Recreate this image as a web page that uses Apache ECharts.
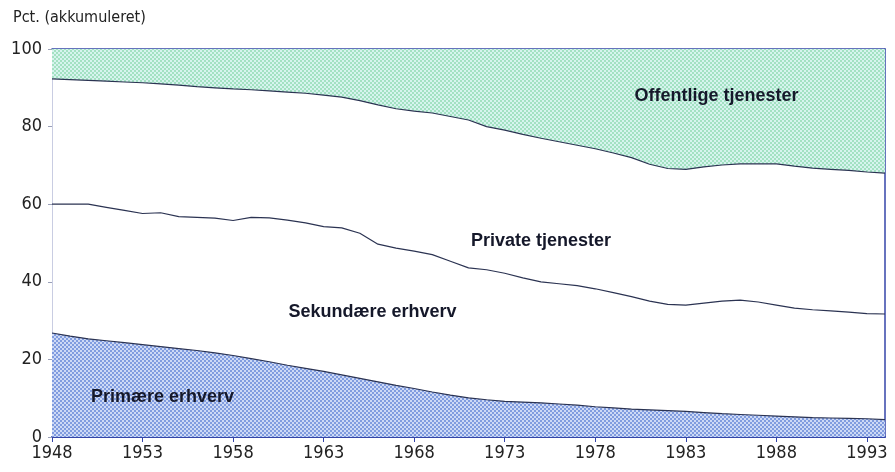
<!DOCTYPE html>
<html lang="da" style="height: 100%">
<head>
    <meta charset="UTF-8">
    <title>Beskæftigelse fordelt på erhverv</title>
    <script type="text/javascript" src="https://cdn.jsdelivr.net/npm/echarts@6/dist/echarts.min.js"></script>
</head>
<body style="height: 100%; margin: 0; background: #fff">
<div id="container" style="width: 895px; height: 472px"></div>
<script type="text/javascript">
    // år 1948-1994
    var years = [1948, 1949, 1950, 1951, 1952, 1953, 1954, 1955, 1956, 1957,
        1958, 1959, 1960, 1961, 1962, 1963, 1964, 1965, 1966, 1967,
        1968, 1969, 1970, 1971, 1972, 1973, 1974, 1975, 1976, 1977,
        1978, 1979, 1980, 1981, 1982, 1983, 1984, 1985, 1986, 1987,
        1988, 1989, 1990, 1991, 1992, 1993, 1994];

    // akkumulerede andele (pct.)
    var primaere = [26.8, 26.0, 25.3, 24.8, 24.3, 23.8, 23.3, 22.8, 22.3, 21.7,
        21.0, 20.2, 19.4, 18.5, 17.7, 16.9, 16.0, 15.1, 14.2, 13.3,
        12.5, 11.6, 10.8, 10.1, 9.6, 9.2, 9.0, 8.8, 8.5, 8.2,
        7.8, 7.5, 7.2, 7.0, 6.8, 6.6, 6.3, 6.0, 5.8, 5.6,
        5.4, 5.2, 5.0, 4.9, 4.8, 4.7, 4.5];
    var sekundaere = [60.0, 60.0, 60.0, 59.2, 58.4, 57.6, 57.8, 56.8, 56.6, 56.4,
        55.8, 56.6, 56.5, 55.9, 55.2, 54.2, 53.9, 52.5, 49.7, 48.7,
        47.9, 47.0, 45.3, 43.6, 43.1, 42.2, 41.0, 40.0, 39.5, 39.0,
        38.2, 37.2, 36.2, 35.0, 34.2, 34.0, 34.5, 35.0, 35.3, 34.8,
        34.0, 33.2, 32.8, 32.5, 32.2, 31.8, 31.7];
    var private = [92.3, 92.1, 91.9, 91.7, 91.5, 91.3, 91.0, 90.7, 90.3, 90.0,
        89.7, 89.5, 89.2, 88.9, 88.6, 88.1, 87.6, 86.7, 85.6, 84.6,
        84.0, 83.5, 82.6, 81.7, 80.0, 79.1, 78.0, 77.0, 76.1, 75.2,
        74.3, 73.2, 72.0, 70.3, 69.2, 69.0, 69.6, 70.1, 70.4, 70.4,
        70.4, 69.8, 69.3, 69.0, 68.7, 68.3, 68.0];

    var areaNames = ['Offentlige tjenester', 'Private tjenester', 'Sekundære erhverv', 'Primære erhverv'];

    function pairs(vals) {
        var out = [];
        for (var i = 0; i < years.length; i++) {
            out.push([years[i], vals[i]]);
        }
        return out;
    }

    // prikket raster som i trykket
    function pattern(bg, dot) {
        var c = document.createElement('canvas');
        c.width = 4;
        c.height = 4;
        var ctx = c.getContext('2d');
        ctx.fillStyle = bg;
        ctx.fillRect(0, 0, 4, 4);
        ctx.fillStyle = dot;
        ctx.fillRect(0, 0, 2, 2);
        ctx.fillRect(2, 2, 2, 2);
        return {image: c, repeat: 'repeat'};
    }

    var font = "'DejaVu Sans Condensed', 'Liberation Sans', sans-serif";
    var lineColor = '#2b3352';
    var frame = '#3445a8';

    var myChart = echarts.init(document.getElementById('container'));
    myChart.setOption({
        animation: false,
        title: {
            text: 'Pct. (akkumuleret)',
            left: 8,
            top: 5,
            textStyle: {fontSize: 16, fontWeight: 'normal', color: '#222', fontFamily: font}
        },
        grid: {left: 52, right: 10, top: 49, bottom: 35},
        xAxis: [{
            type: 'value',
            min: 1948,
            max: 1994,
            interval: 5,
            axisLine: {lineStyle: {color: frame, width: 2}},
            axisTick: {show: true, length: 5, lineStyle: {color: frame}},
            axisLabel: {
                showMaxLabel: false, fontSize: 18, color: '#222', margin: 7, fontFamily: font,
                formatter: function (v) { return String(v); }
            },
            splitLine: {show: false}
        }, {
            type: 'value',
            position: 'top',
            min: 1948,
            max: 1994,
            axisLine: {show: true, onZero: false, lineStyle: {color: frame, width: 1.5}},
            axisTick: {show: false},
            axisLabel: {show: false},
            splitLine: {show: false}
        }],
        yAxis: [{
            type: 'value',
            min: 0,
            max: 100,
            interval: 20,
            axisLine: {show: true, lineStyle: {color: '#c9cde2'}},
            axisTick: {show: true, length: 4, lineStyle: {color: '#9aa0b8'}},
            axisLabel: {fontSize: 18, color: '#222', margin: 10, fontFamily: font},
            splitLine: {show: false}
        }, {
            type: 'value',
            position: 'right',
            min: 0,
            max: 100,
            axisLine: {show: true, onZero: false, lineStyle: {color: frame, width: 1.5}},
            axisTick: {show: false},
            axisLabel: {show: false},
            splitLine: {show: false}
        }],
        series: [{
            type: 'line',
            name: areaNames[0],
            data: pairs(private),
            symbol: 'none',
            lineStyle: {color: lineColor, width: 1.2},
            areaStyle: {origin: 'end', color: pattern('#d6f4ee', '#a3e1c2'), opacity: 1}
        }, {
            type: 'line',
            name: areaNames[2],
            data: pairs(sekundaere),
            symbol: 'none',
            lineStyle: {color: lineColor, width: 1.2}
        }, {
            type: 'line',
            name: areaNames[3],
            data: pairs(primaere),
            symbol: 'none',
            lineStyle: {color: lineColor, width: 1.2},
            areaStyle: {origin: 'start', color: pattern('#cdd9f6', '#809cdf'), opacity: 1},
            markPoint: {
                symbol: 'circle',
                symbolSize: 1,
                itemStyle: {color: 'rgba(0,0,0,0)'},
                label: {
                    show: true,
                    position: 'inside',
                    formatter: '{b}',
                    fontSize: 18,
                    fontWeight: 'bold',
                    color: '#15182a',
                    fontFamily: "'Liberation Sans', Arial, sans-serif"
                },
                data: [
                    {name: areaNames[0], coord: [1984.7, 87.9]},
                    {name: areaNames[1], coord: [1975.0, 50.5]},
                    {name: areaNames[2], coord: [1965.7, 32.2]},
                    {name: areaNames[3], coord: [1954.1, 10.3]}
                ]
            }
        }]
    });
</script>
</body>
</html>
